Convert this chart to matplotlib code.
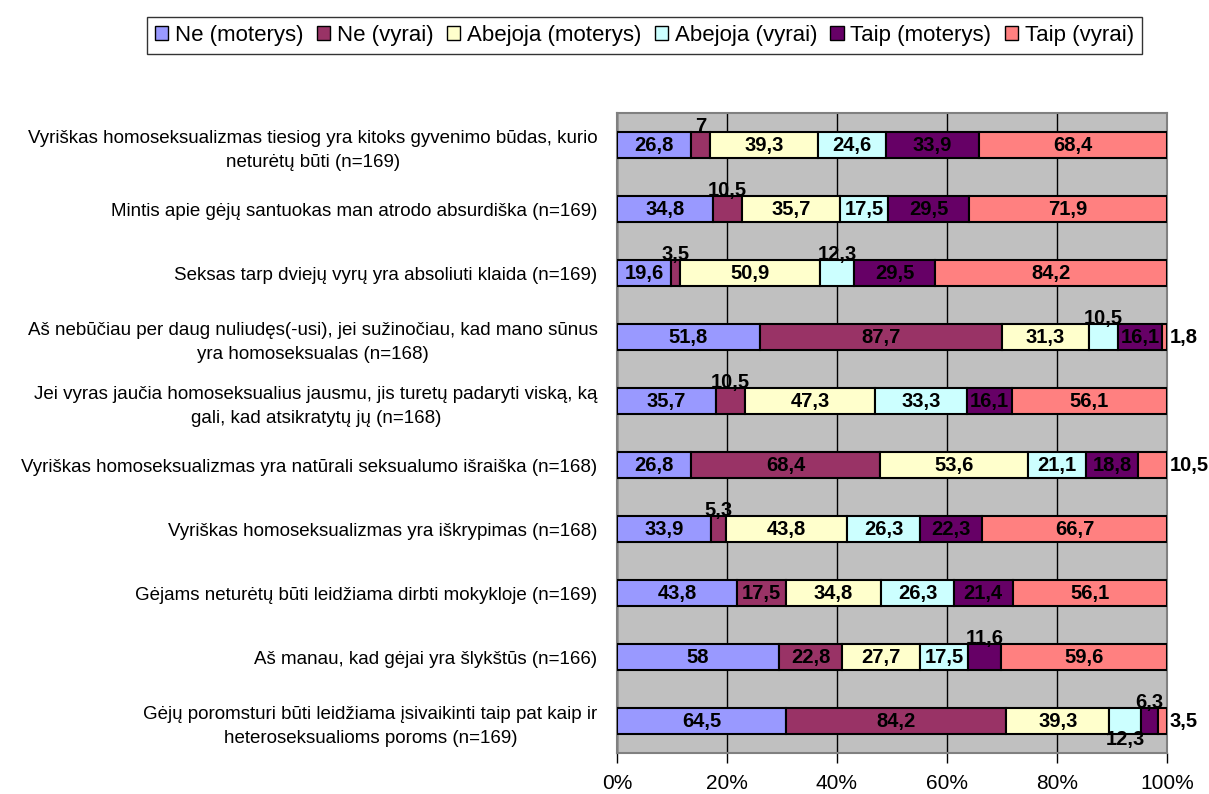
import matplotlib
matplotlib.use('Agg')
import matplotlib.pyplot as plt
import numpy as np

plt.rcParams['font.family'] = ['Liberation Sans', 'DejaVu Sans']

# statements, top to bottom as on the chart
statements = [
    'Vyriškas homoseksualizmas tiesiog yra kitoks gyvenimo būdas, kurio\nneturėtų būti (n=169)',
    'Mintis apie gėjų santuokas man atrodo absurdiška (n=169)',
    'Seksas tarp dviejų vyrų yra absoliuti klaida (n=169)',
    'Aš nebūčiau per daug nuliudęs(-usi), jei sužinočiau, kad mano sūnus\nyra homoseksualas (n=168)',
    'Jei vyras jaučia homoseksualius jausmu, jis turetų padaryti viską, ką\ngali, kad atsikratytų jų (n=168)',
    'Vyriškas homoseksualizmas yra natūrali seksualumo išraiška (n=168)',
    'Vyriškas homoseksualizmas yra iškrypimas (n=168)',
    'Gėjams neturėtų būti leidžiama dirbti mokykloje (n=169)',
    'Aš manau, kad gėjai yra šlykštūs (n=166)',
    'Gėjų poromsturi būti leidžiama įsivaikinti taip pat kaip ir\nheteroseksualioms poroms (n=169)',
]

series = ['Ne (moterys)', 'Ne (vyrai)', 'Abejoja (moterys)', 'Abejoja (vyrai)',
          'Taip (moterys)', 'Taip (vyrai)']

ne_m   = [26.8, 34.8, 19.6, 51.8, 35.7, 26.8, 33.9, 43.8, 58.0, 64.5]
ne_v   = [7.0, 10.5, 3.5, 87.7, 10.5, 68.4, 5.3, 17.5, 22.8, 84.2]
abe_m  = [39.3, 35.7, 50.9, 31.3, 47.3, 53.6, 43.8, 34.8, 27.7, 39.3]
abe_v  = [24.6, 17.5, 12.3, 10.5, 33.3, 21.1, 26.3, 26.3, 17.5, 12.3]
taip_m = [33.9, 29.5, 29.5, 16.1, 16.1, 18.8, 22.3, 21.4, 11.6, 6.3]
taip_v = [68.4, 71.9, 84.2, 1.8, 56.1, 10.5, 66.7, 56.1, 59.6, 3.5]

colors = ['#9999FF', '#993366', '#FFFFCC', '#CCFFFF', '#660066', '#FF8080']

# labels that don't fit inside their piece (row, series) -> where they go
outside = {(0, 1): 'above', (1, 1): 'above', (2, 1): 'above', (2, 3): 'above',
           (3, 3): 'above', (3, 5): 'right', (4, 1): 'above', (5, 5): 'right',
           (6, 1): 'above', (8, 4): 'above', (9, 4): 'above', (9, 3): 'below',
           (9, 5): 'right'}

data = np.array([ne_m, ne_v, abe_m, abe_v, taip_m, taip_v])
pct = data / data.sum(axis=0) * 100   # 100% stacked

def fmt(v):
    if v == int(v):
        return str(int(v))
    return ('%.1f' % v).replace('.', ',')

fs = 14.5  # data label size

fig = plt.figure(figsize=(12.09, 7.94), dpi=100)
ax = fig.add_axes([0.5103, 0.0516, 0.455, 0.806])
ax.set_facecolor('#C0C0C0')

y = np.arange(len(statements))
h = 0.4
left = np.zeros(len(statements))
bars = []
for i in range(len(series)):
    b = ax.barh(y, pct[i], left=left, height=h, color=colors[i],
                edgecolor='black', linewidth=1.5, label=series[i], zorder=3)
    bars.append(b)
    for r in range(len(statements)):
        cx = left[r] + pct[i][r] / 2
        txt = fmt(data[i][r])
        where = outside.get((r, i))
        if where == 'above':
            ax.annotate(txt, (cx, y[r] - h / 2), xytext=(0, -3), textcoords='offset points',
                        ha='center', va='bottom', fontsize=fs, fontweight='bold', zorder=5)
        elif where == 'below':
            ax.annotate(txt, (cx, y[r] + h / 2), xytext=(0, 3), textcoords='offset points',
                        ha='center', va='top', fontsize=fs, fontweight='bold', zorder=5)
        elif where == 'right':
            ax.annotate(txt, (100, y[r]), xytext=(2, 0), textcoords='offset points',
                        ha='left', va='center', fontsize=fs, fontweight='bold', zorder=5,
                        annotation_clip=False)
        else:
            ax.text(cx, y[r], txt, ha='center', va='center', fontsize=fs,
                    fontweight='bold', zorder=5)
    left = left + pct[i]

ax.set_xlim(0, 100)
ax.set_ylim(len(statements) - 0.5, -0.5)
ax.set_xticks([0, 20, 40, 60, 80, 100])
ax.set_xticklabels(['0%', '20%', '40%', '60%', '80%', '100%'], fontsize=15)
ax.set_yticks(y)
ax.set_yticklabels(statements, fontsize=13.5, multialignment='center', linespacing=1.5)
ax.tick_params(axis='y', length=0, pad=14)
ax.tick_params(axis='x', length=7, width=1, colors='black', pad=8)
ax.xaxis.grid(True, color='black', linewidth=1, zorder=0)
ax.set_axisbelow(True)
for s in ax.spines.values():
    s.set_color('#808080')
    s.set_linewidth(1.5)

leg = fig.legend(handles=bars, labels=series, loc='center', bbox_to_anchor=(0.533, 0.955),
                 ncol=6, fontsize=16, frameon=True, fancybox=False, edgecolor='black',
                 handlelength=0.6, handleheight=0.6, handletextpad=0.3, columnspacing=0.6,
                 borderpad=0.35)
leg.get_frame().set_linewidth(1)
for p in leg.get_patches():
    p.set_linewidth(1)

fig.savefig('out.png', dpi=100)
